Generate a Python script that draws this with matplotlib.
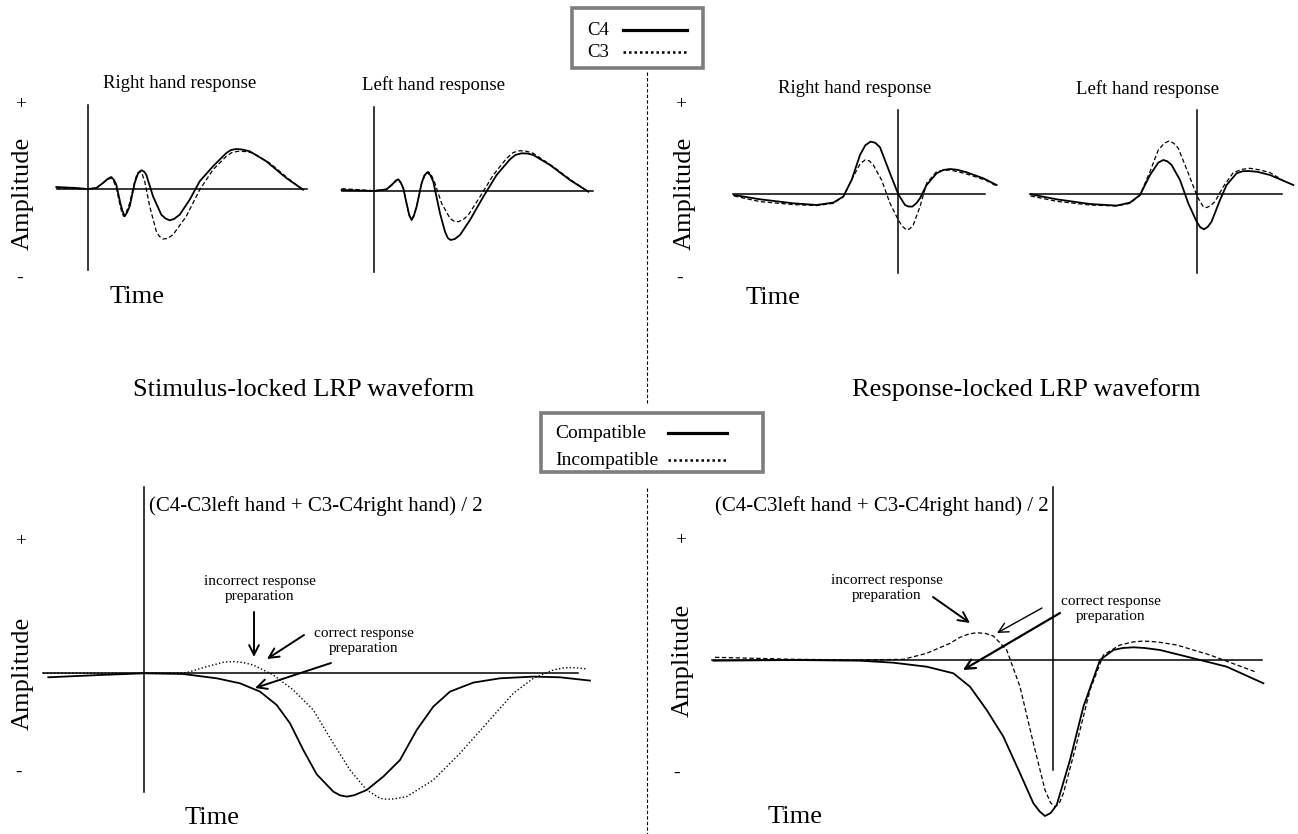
import matplotlib
matplotlib.use("Agg")
import matplotlib.pyplot as plt
from matplotlib.patches import Rectangle

plt.rcParams['font.family'] = ['Liberation Serif', 'DejaVu Serif']

W, H = 1298, 834

# ---- data: (time, amplitude) in pixel units from each panel origin ----
# stimulus-locked, right hand response
sl_right_c4 = [(-31.7, 2.0), (-11.7, 1.0), (0, 0), (8.3, 1.0), (15, 6), (19.5, 10), (23.3, 12), (26, 9),
               (28.3, 4.3), (32.3, -14), (34.5, -22), (36.7, -27.3), (38.8, -24), (41.7, -17.3), (46.7, 6),
               (50, 15.5), (53.3, 18.7), (56, 17.5), (58.3, 14.3), (65, -7.3), (73.3, -25.7), (77.5, -29.5),
               (81.7, -31.3), (86, -30), (91.7, -25.7), (101.7, -10.7), (111.7, 7.7), (125, 22.7),
               (138.3, 36), (143, 39), (148.3, 40), (154, 39.5), (161.7, 37.7), (178.3, 27.7),
               (198.3, 11), (215, -0.7)]
sl_right_c3 = [(-31.7, 1.0), (0, 0), (8.3, 1.0), (15, 6), (19.5, 9.5), (23.3, 11), (26, 7), (28.3, 1),
               (32.3, -17.3), (34, -24), (35.7, -27.3), (38, -24), (41.7, -14), (46.7, 7.7), (49, 15),
               (51.7, 17.7), (54, 15.5), (56.7, 7.7), (61.7, -17.3), (68.3, -42.3), (71.5, -47.5),
               (75, -50), (79.5, -49.5), (85, -45.7), (98.3, -27.3), (111.7, -0.7), (125, 19.3),
               (138.3, 32.7), (144, 36.5), (150, 37.7), (157, 37.5), (165, 36), (181.7, 26),
               (201.7, 9.3), (215, -0.7)]

# stimulus-locked, left hand response
sl_left_c4 = [(-32.7, 1), (0, 0), (12.3, 1.7), (19, 7.7), (21.5, 10.5), (24, 11.7), (26.5, 8.5), (29, 2.7),
              (33, -15.7), (35, -24.5), (37.3, -29), (39.5, -25), (42.3, -15.7), (47.3, 7.7), (50, 15.5),
              (53, 18.7), (56, 16), (59, 9.3), (65.7, -22.3), (70.7, -40.7), (73.5, -47), (76.3, -49),
              (80.5, -48), (85.7, -44), (95.7, -29), (109, -5.7), (122.3, 16), (135.7, 31.7), (141, 36),
              (147.3, 37.7), (153, 37.5), (159, 36), (175.7, 26), (195.7, 11), (214, -0.7)]
sl_left_c3 = [(-32.7, 2.3), (0, 0.3), (12.3, 1.7), (19, 7), (21.5, 10), (24, 11), (26.5, 8), (29, 2.7),
              (33, -15.7), (35, -24), (37.3, -28.3), (39.5, -24.5), (42.3, -15.7), (47.3, 7.7), (51, 16.5),
              (54, 19.3), (57, 16), (60.7, 7.7), (67.3, -12.3), (75.7, -27.3), (79.5, -30), (84, -30.7),
              (89, -28.5), (94, -24), (105.7, -5.7), (119, 16), (132.3, 32.7), (139, 38.5),
              (145.7, 40.3), (152, 39.8), (159, 37.7), (179, 24.3), (199, 9.3), (214, -0.7)]

# response-locked, right hand response
rl_right_c4 = [(-164.3, -0.7), (-138.3, -5), (-105, -9), (-81.7, -10.7), (-65, -8.3), (-55, -2.3),
               (-46.7, 14.3), (-38.3, 39.3), (-33, 49), (-27.7, 52.7), (-23, 51.5), (-18.3, 47),
               (-8.3, 21), (0, 0), (6.7, -10.7), (10, -12.2), (14, -12.3), (18, -9), (21.7, -4),
               (28.3, 9.3), (38.3, 21), (45, 24.3), (51.7, 25.3), (59, 24.5), (68.3, 22), (85, 16),
               (98.3, 9.3)]
rl_right_c3 = [(-164.3, -1.7), (-138.3, -7.3), (-105, -10.3), (-81.7, -11.3), (-65, -9), (-55, -2.3),
               (-45, 17.7), (-38.3, 30.3), (-33.3, 34.3), (-29, 33.5), (-25, 29.3), (-16.7, 14.3),
               (-8.3, -9), (0, -25.7), (4, -32), (8.3, -35.7), (11.5, -34.5), (15, -30.7), (21.7, -12.3),
               (28.3, 11), (38.3, 22.7), (45, 24), (51.7, 24.3), (60, 22.5), (71.7, 19.3), (88.3, 13.7),
               (98.3, 8.3)]

# response-locked, left hand response
rl_left_c4 = [(-166.7, 0), (-140.7, -5), (-107.3, -9.7), (-80.7, -11.3), (-67.3, -8.3), (-57.3, -0.7),
              (-47.3, 19.3), (-39, 31.7), (-34, 34.3), (-30, 33), (-25.7, 29.3), (-17.3, 14.3), (-9, -9),
              (-0.7, -27.3), (3, -33), (6.7, -35), (10.5, -32.5), (14.3, -27.3), (22.7, -5.7),
              (29.3, 9.3), (39.3, 21), (45, 23), (51, 23.3), (60, 22.5), (72.7, 19.3), (96, 9.3)]
rl_left_c3 = [(-166.7, -1.7), (-140.7, -7), (-107.3, -10.7), (-80.7, -11.7), (-67.3, -9), (-57.3, -0.7),
              (-47.3, 22.7), (-39, 44.3), (-33, 51), (-28.3, 53.3), (-23.5, 51), (-19, 46), (-9, 21),
              (0, -2.3), (6, -12.5), (9.3, -13.3), (13, -11.5), (17.7, -7.3), (26, 7.7), (36, 21.7),
              (45, 25), (52.7, 26), (62, 24.5), (72.7, 21.7), (89.3, 11.7)]

# LRP, stimulus-locked
lrp_sl_comp = [(-95.7, -4), (-44, -1.7), (0, 0), (39.3, -0.7), (72.7, -5), (96, -10), (116, -18.3),
               (132.7, -31.7), (146, -50), (159.3, -76.7), (172.7, -101), (189.3, -118.3), (196, -122),
               (202.7, -123.3), (210, -122), (222.7, -116.7), (239.3, -103.3), (256, -86.7),
               (272.7, -56.7), (289.3, -33.3), (306, -18.3), (329.3, -9.3), (356, -5), (389.3, -3.3),
               (416, -4), (446, -7.3)]
lrp_sl_inc = [(-100.7, 0), (0, 0), (42.7, 0.7), (62.7, 6.7), (80, 11.2), (89.3, 11.7), (99, 10.8),
              (109.3, 8.3), (129.3, -1.7), (149.3, -16.7), (169.3, -36.7), (189.3, -70), (206, -96.7),
              (222.7, -116.7), (236, -125), (242.7, -126), (251, -125.5), (262.7, -123.3),
              (289.3, -106.7), (316, -80), (342.7, -50), (369.3, -20), (389.3, -5), (409.3, 3.3),
              (420, 5.5), (426, 5.7), (434, 5.3), (442.7, 4.3)]

# LRP, response-locked
lrp_rl_comp = [(-339.3, -0.7), (-259.3, 0), (-192.7, -0.7), (-159.3, -2.7), (-126, -6.7), (-99.3, -13.3),
               (-82.7, -26.7), (-66, -50), (-49.3, -76.7), (-32.7, -113.3), (-19.3, -143.3),
               (-13, -151.5), (-7.7, -156), (-2, -153), (4, -145), (17.3, -100), (30.7, -46.7),
               (47.3, 0), (60.7, 10), (70, 12), (80.7, 12.7), (92, 12), (107.3, 10), (140.7, 1.7),
               (174, -6.7), (210.7, -23.3)]
lrp_rl_inc = [(-337.7, 2.7), (-259.3, 0.7), (-192.7, 0), (-149.3, 0.7), (-126, 6.7), (-102.7, 16.7),
              (-92.7, 22.7), (-84, 26), (-76, 27.3), (-67, 26.5), (-59.3, 24), (-46, 10), (-32.7, -26.7),
              (-19.3, -83.3), (-7.7, -130), (-2, -143), (2.3, -146.7), (6.5, -143.5), (10.7, -133.3),
              (24, -83.3), (37.3, -30), (50.7, 5), (67.3, 15), (80, 18), (90.7, 19), (105, 18),
              (124, 15), (157.3, 5), (202.3, -11.7)]

# ---- layout: axis line extents and origin in figure pixels ----
# (x_left, x_right, y_top, y_bottom, origin_x, origin_y)
layout = {
    'sl_right': (57, 307, 105, 270, 88, 189),
    'sl_left': (342, 593, 107, 272, 374.3, 191),
    'rl_right': (733, 985, 110, 273, 898.3, 194.3),
    'rl_left': (1030, 1282, 110, 273, 1197.3, 194.3),
    'lrp_sl': (43, 578, 487, 792, 144, 673.3),
    'lrp_rl': (712, 1262, 487, 770, 1052.7, 660),
}

dash = (0, (3.5, 2))
dots = (0, (1, 1.6))


def panel(fig, key):
    x0, x1, y0, y1, ox, oy = layout[key]
    ax = fig.add_axes([x0 / W, 1 - y1 / H, (x1 - x0) / W, (y1 - y0) / H])
    ax.set_xlim(x0 - ox, x1 - ox)
    ax.set_ylim(oy - y1, oy - y0)
    ax.patch.set_visible(False)
    ax.spines['top'].set_visible(False)
    ax.spines['right'].set_visible(False)
    ax.spines['left'].set_position(('data', 0))
    ax.spines['bottom'].set_position(('data', 0))
    for s in ['left', 'bottom']:
        ax.spines[s].set_linewidth(1.1)
    ax.set_xticks([])
    ax.set_yticks([])
    return ax


fig = plt.figure(figsize=(W / 100, H / 100), dpi=100)

# overlay in pixel units for text, dividers, legends and arrows
ov = fig.add_axes([0, 0, 1, 1])
ov.set_xlim(0, W)
ov.set_ylim(H, 0)
ov.axis('off')

solid_kw = dict(color='black', lw=1.3, solid_joinstyle='round', clip_on=False)
dash_kw = dict(color='black', lw=0.9, linestyle=dash, clip_on=False)

curves = [
    ('sl_right', sl_right_c4, sl_right_c3, dash_kw),
    ('sl_left', sl_left_c4, sl_left_c3, dash_kw),
    ('rl_right', rl_right_c4, rl_right_c3, dash_kw),
    ('rl_left', rl_left_c4, rl_left_c3, dash_kw),
    ('lrp_sl', lrp_sl_comp, lrp_sl_inc, dict(color='black', lw=1.0, linestyle=dots, clip_on=False)),
    ('lrp_rl', lrp_rl_comp, lrp_rl_inc, dash_kw),
]
for key, first, second, kw2 in curves:
    ax = panel(fig, key)
    t, a = zip(*first)
    ax.plot(t, a, **solid_kw)
    t, a = zip(*second)
    ax.plot(t, a, **kw2)

# panel titles
sub_titles = [('Right hand response', 180, 83), ('Left hand response', 433, 85),
              ('Right hand response', 855, 88), ('Left hand response', 1148, 89)]
for s, x, y in sub_titles:
    ov.text(x, y, s, fontsize=13.5, ha='center', va='center')

lrp_title = '(C4-C3left hand + C3-C4right hand) / 2'
ov.text(316, 506, lrp_title, fontsize=15, ha='center', va='center')
ov.text(882, 506, lrp_title, fontsize=15, ha='center', va='center')

ov.text(304, 390, 'Stimulus-locked LRP waveform', fontsize=19, ha='center', va='center')
ov.text(1026, 390, 'Response-locked LRP waveform', fontsize=19, ha='center', va='center')

# axis words and signs
for x, y in [(23, 193), (685, 193), (23, 673), (683, 660)]:
    ov.text(x, y, 'Amplitude', fontsize=19, rotation=90, ha='center', va='center')
for x, y in [(137, 297), (773, 298), (212, 818), (795, 817)]:
    ov.text(x, y, 'Time', fontsize=19, ha='center', va='center')
for x, y in [(21, 105), (681, 105), (21, 542), (681, 541)]:
    ov.text(x, y, '+', fontsize=14, ha='center', va='center')
for x, y in [(20, 278), (680, 278), (19, 772), (677, 773)]:
    ov.text(x, y, '-', fontsize=14, ha='center', va='center')

# dividers
ov.plot([647, 647], [72, 403], color='black', lw=0.8, linestyle=(0, (3, 2)))
ov.plot([647, 647], [488, 834], color='black', lw=0.8, linestyle=(0, (3, 2)))


def legend_box(x0, y0, x1, y1, labels, styles, tx, lx0, lx1, rows, fs):
    ov.add_patch(Rectangle((x0, y0), x1 - x0, y1 - y0, facecolor='white',
                           edgecolor='#7d7d7d', lw=2.6, zorder=3))
    for lab, st, y in zip(labels, styles, rows):
        ov.text(tx, y, lab, fontsize=fs, ha='left', va='center', zorder=4)
        ov.plot([lx0, lx1], [y, y], color='black', zorder=4, **st)


legend_box(572, 8, 703, 68, ['C4', 'C3'],
           [dict(lw=2.3), dict(lw=1.8, linestyle=(0, (1, 1.2)))],
           587, 623, 687, [30, 52], 13.5)
legend_box(541, 413, 763, 472, ['Compatible', 'Incompatible'],
           [dict(lw=2.3), dict(lw=1.8, linestyle=(0, (1, 1.2)))],
           555, 668, 727, [433, 460], 14)

# annotations
ann_fs = 11
for x, y, s in [(260, 589, 'incorrect response\npreparation'), (364, 641, 'correct response\npreparation'),
                (887, 588, 'incorrect response\npreparation'), (1111, 609, 'correct response\npreparation')]:
    ov.text(x, y, s, fontsize=ann_fs, ha='center', va='center', linespacing=1.15)

arrows = [((254, 612), (254, 657), 1.4), ((304, 635), (267, 659), 1.4), ((331, 663), (255, 688), 1.4),
          ((933, 597), (970, 623), 1.4), ((1042, 608), (997, 633), 1.0), ((1060, 613), (963, 670), 1.6)]
for (xs, ys), (xe, ye), lw in arrows:
    ov.annotate('', xy=(xe, ye), xytext=(xs, ys),
                arrowprops=dict(arrowstyle='->,head_length=0.7,head_width=0.35', lw=lw,
                                color='black', shrinkA=0, shrinkB=0))

fig.savefig('out.png', dpi=100)
